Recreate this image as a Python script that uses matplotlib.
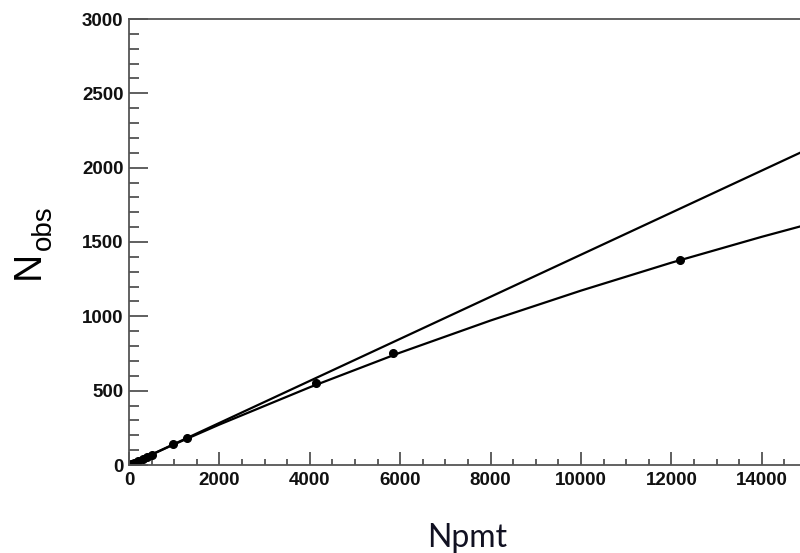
import matplotlib
matplotlib.use("Agg")
import matplotlib.pyplot as plt
from matplotlib.ticker import MultipleLocator

# Data
pts_x = [0, 50, 100, 200, 300, 400, 500, 980, 1280, 4140, 5840, 12190]
pts_y = [0, 8, 15, 28, 42, 55, 68, 140, 180, 551, 753, 1379]

line_x = [0, 15000]
line_y = [0, 2122]

curve_x = [0, 1000, 2000, 4000, 6000, 8000, 10000, 12000, 14000, 15000]
curve_y = [0, 139, 272, 523, 756, 972, 1173, 1361, 1535, 1617]

xticks = [0, 2000, 4000, 6000, 8000, 10000, 12000, 14000]
yticks = [0, 500, 1000, 1500, 2000, 2500, 3000]

fig = plt.figure(figsize=(8, 5.53), dpi=100)
ax = fig.add_axes([129/800, 88/553, 678/800, 446/553])

ax.plot(line_x, line_y, color="black", lw=1.6)
ax.plot(curve_x, curve_y, color="black", lw=1.6)
ax.plot(pts_x, pts_y, "o", color="black", ms=5.5)

ax.set_xlim(0, 15000)
ax.set_ylim(0, 3000)
ax.set_xticks(xticks)
ax.set_yticks(yticks)
ax.xaxis.set_minor_locator(MultipleLocator(500))
ax.yaxis.set_minor_locator(MultipleLocator(100))

for s in ["left", "bottom", "top"]:
    ax.spines[s].set_color("#555555")
    ax.spines[s].set_linewidth(1.3)
ax.spines["right"].set_visible(False)

ax.tick_params(axis="x", which="major", direction="in", length=9.5, width=1.2,
               color="#444444", pad=5)
ax.tick_params(axis="x", which="minor", direction="in", length=4.5, width=1.2,
               color="#444444")
ax.tick_params(axis="y", which="major", direction="in", length=14, width=1.2,
               color="#444444", pad=4)
ax.tick_params(axis="y", which="minor", direction="in", length=7, width=1.2,
               color="#444444")
ax.tick_params(top=False, right=False, which="both")

for lab in ax.get_xticklabels() + ax.get_yticklabels():
    lab.set_fontfamily("Liberation Sans")
    lab.set_fontweight("bold")
    lab.set_fontsize(13.5)
    lab.set_color("#111111")

fig.text(29/800, 1 - 265/553, "N", rotation=90, ha="center", va="center",
         fontsize=28, family="Liberation Sans")
fig.text(44/800, 1 - 228/553, "obs", rotation=90, ha="center", va="center",
         fontsize=20, family="Liberation Sans")
fig.text(467/800, 1 - 538/553, "Npmt", ha="center", va="center",
         fontsize=23, family="Lato", color="#111122")

fig.savefig("out.png", dpi=100)
